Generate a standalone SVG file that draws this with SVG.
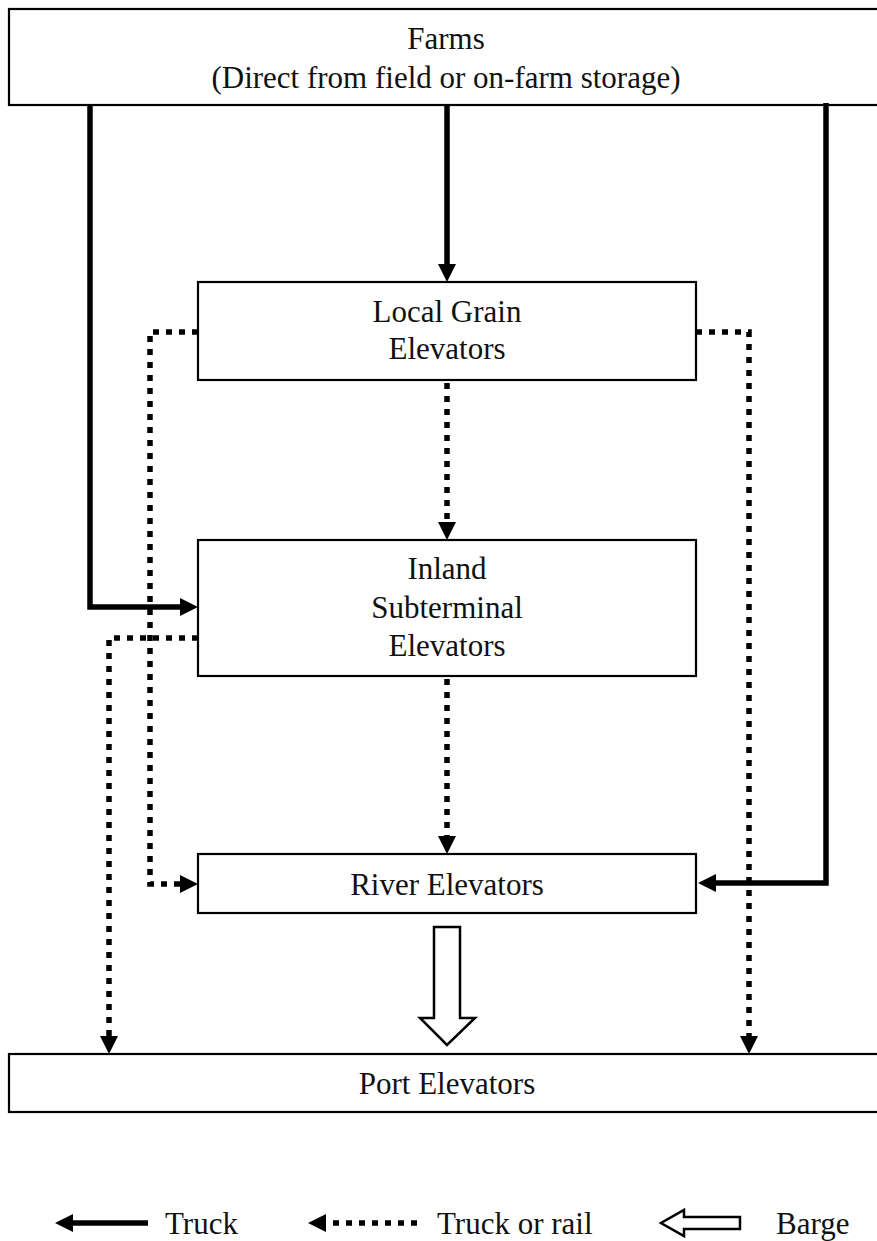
<svg xmlns="http://www.w3.org/2000/svg" width="877" height="1241" viewBox="0 0 877 1241">
<style>
.box{fill:#fff;stroke:#000;stroke-width:2.2}
.t{font-family:"Liberation Serif","Times New Roman",serif;font-size:31px;fill:#111;text-anchor:middle}
.tl{font-family:"Liberation Serif","Times New Roman",serif;font-size:31px;fill:#111}
.truck{fill:none;stroke:#000;stroke-width:5.5;marker-end:url(#head)}
.rail{fill:none;stroke:#000;stroke-width:5.5;stroke-dasharray:6 7;marker-end:url(#head)}
.barge{fill:#fff;stroke:#000;stroke-width:2.5}
</style>
<defs>
<marker id="head" markerUnits="userSpaceOnUse" markerWidth="20" markerHeight="20" refX="0" refY="0" viewBox="0 -10 20 20" orient="auto" overflow="visible">
<path d="M0,-9 L18,0 L0,9 Z" fill="#000"/>
</marker>
</defs>
<rect width="877" height="1241" fill="#fff"/>
<g id="farms">
<rect class="box" x="9" y="9" width="880" height="96"/>
<text class="t" x="446" y="49">Farms</text>
<text class="t" x="446" y="88">(Direct from field or on-farm storage)</text>
</g>
<g id="local">
<rect class="box" x="198" y="282" width="498" height="98"/>
<text class="t" x="447" y="322">Local Grain</text>
<text class="t" x="447" y="359">Elevators</text>
</g>
<g id="inland">
<rect class="box" x="198" y="540" width="498" height="136"/>
<text class="t" x="447" y="579">Inland</text>
<text class="t" x="447" y="618">Subterminal</text>
<text class="t" x="447" y="656">Elevators</text>
</g>
<g id="river">
<rect class="box" x="198" y="854" width="498" height="59"/>
<text class="t" x="447" y="895">River Elevators</text>
</g>
<g id="port">
<rect class="box" x="9" y="1054" width="880" height="58"/>
<text class="t" x="447" y="1094">Port Elevators</text>
</g>
<g id="connectors">
<path class="truck" d="M90,105 V607 H180"/>
<path class="truck" d="M447,105 V264"/>
<path class="truck" d="M826,103 V883 H716"/>
<path class="rail" d="M198,332 H150 V884 H180"/>
<path class="rail" d="M696,332 H749 V1036"/>
<path class="rail" d="M447,383 V522"/>
<path class="rail" d="M198,638 H109 V1036"/>
<path class="rail" d="M447,679 V836"/>
<path class="barge" d="M434,927 H460 V1018 H475 L447,1045 L420,1018 H434 Z"/>
</g>
<g id="legend">
<path class="truck" d="M148,1223 H73"/>
<text class="tl" x="165" y="1234">Truck</text>
<path class="rail" d="M417,1223 H326"/>
<text class="tl" x="437" y="1234">Truck or rail</text>
<path class="barge" d="M740,1217 V1229 H684 V1236 L661,1223 L684,1210 V1217 Z"/>
<text class="tl" x="776" y="1234">Barge</text>
</g>
</svg>
